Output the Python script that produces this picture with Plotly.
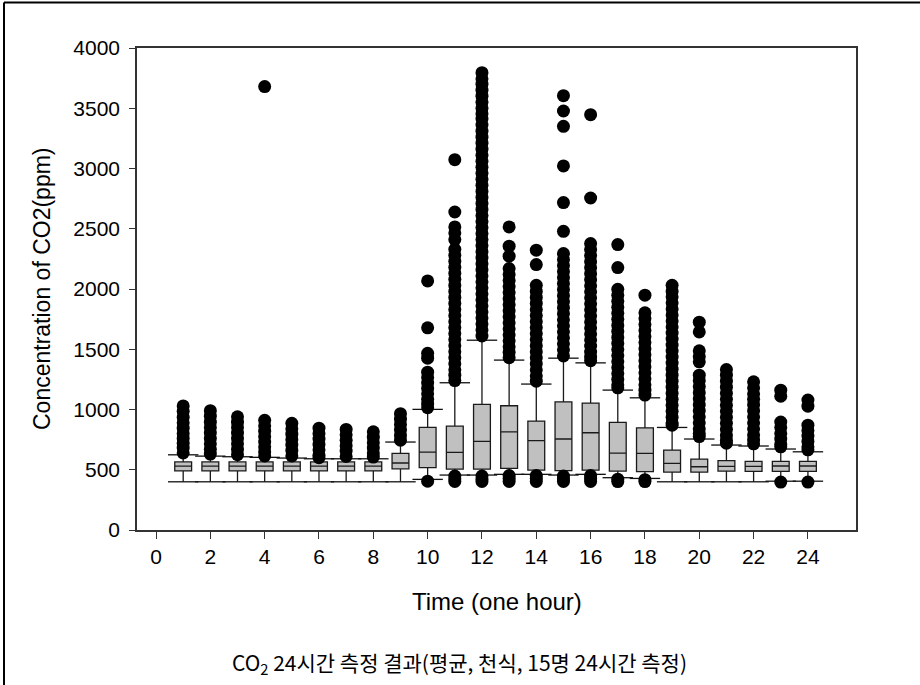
import plotly.graph_objects as go

# ---- box statistics per hour (ppm) ----
hours = list(range(1, 25))
q1 = [490, 490, 490, 490, 490, 490, 490, 490, 508, 517, 506, 506,
      511, 497, 492, 497, 489, 484, 481, 481, 489, 486, 486, 486]
median = [530, 530, 530, 530, 530, 530, 530, 530, 556, 647, 644, 735,
          815, 741, 755, 807, 638, 636, 553, 525, 528, 528, 531, 531]
q3 = [565, 565, 565, 565, 565, 565, 565, 565, 636, 851, 862, 1042,
      1031, 904, 1064, 1053, 893, 848, 663, 589, 575, 570, 570, 570]
whisker_low = [400, 400, 400, 400, 400, 400, 400, 400, 400, 420, 456, 456,
               462, 462, 456, 462, 434, 428, 400, 400, 400, 400, 405, 405]
whisker_high = [624, 613, 608, 603, 597, 591, 591, 591, 730, 1001, 1222, 1575,
                1410, 1211, 1426, 1387, 1161, 1097, 851, 755, 705, 697, 672, 649]

# ---- outliers above the upper whisker (ppm) ----
hi_01 = [1030, 985, 935, 890, 845, 800, 760, 720, 680, 640]
hi_02 = [990, 945, 895, 850, 805, 760, 715, 670, 630]
hi_03 = [940, 895, 850, 805, 760, 715, 670, 625]
hi_04 = [3680, 910, 865, 820, 775, 730, 690, 650, 615]
hi_05 = [885, 840, 795, 750, 705, 660, 615]
hi_06 = [845, 800, 755, 710, 665, 620, 600]
hi_07 = [835, 790, 745, 700, 655, 610]
hi_08 = [815, 770, 725, 680, 640, 605]
hi_09 = [965, 920, 875, 830, 785, 745]
hi_10 = [2067, 1678, 1466, 1426, 1310, 1265, 1220, 1175, 1130, 1085, 1045, 1015]
hi_11 = [3073, 2639, 2515, 2465, 2410, 2330, 2280, 2230, 2180, 2130, 2080, 2030,
         1980, 1930, 1880, 1830, 1780, 1730, 1680, 1630, 1580, 1530, 1480, 1430,
         1380, 1330, 1285, 1240]
hi_12 = [3795, 3745, 3700, 3650, 3600, 3550, 3500, 3455, 3410, 3360, 3310, 3260,
         3210, 3160, 3110, 3060, 3010, 2960, 2910, 2860, 2810, 2760, 2710, 2660,
         2610, 2560, 2510, 2460, 2410, 2360, 2310, 2260, 2210, 2160, 2110, 2060,
         2010, 1960, 1910, 1860, 1810, 1760, 1710, 1660, 1610]
hi_13 = [2515, 2355, 2272, 2170, 2120, 2070, 2020, 1970, 1920, 1870, 1820, 1770,
         1720, 1670, 1620, 1570, 1520, 1475, 1430]
hi_14 = [2322, 2203, 2031, 1980, 1930, 1880, 1830, 1780, 1730, 1680, 1630, 1580,
         1530, 1480, 1430, 1380, 1330, 1280, 1235]
hi_15 = [3604, 3477, 3350, 3021, 2717, 2479, 2294, 2245, 2195, 2145, 2095, 2045,
         1995, 1945, 1895, 1845, 1795, 1745, 1695, 1645, 1595, 1545, 1495, 1445]
hi_16 = [3447, 2755, 2377, 2327, 2277, 2227, 2177, 2127, 2077, 2027, 1977, 1927,
         1877, 1827, 1777, 1727, 1677, 1627, 1577, 1527, 1477, 1435, 1405]
hi_17 = [2369, 2178, 1998, 1948, 1898, 1848, 1798, 1748, 1698, 1648, 1598, 1548,
         1498, 1448, 1398, 1348, 1298, 1250, 1205, 1180]
hi_18 = [1949, 1802, 1755, 1705, 1655, 1605, 1555, 1505, 1455, 1405, 1355, 1305,
         1255, 1205, 1160, 1120]
hi_19 = [2031, 1980, 1935, 1885, 1835, 1785, 1735, 1685, 1635, 1585, 1535, 1485,
         1435, 1385, 1335, 1285, 1235, 1185, 1135, 1085, 1035, 985, 935, 890, 870]
hi_20 = [1725, 1644, 1487, 1440, 1396, 1285, 1240, 1190, 1140, 1090, 1040, 990,
         940, 890, 840, 800, 775]
hi_21 = [1332, 1285, 1235, 1185, 1135, 1085, 1035, 985, 935, 885, 835, 785, 745, 720]
hi_22 = [1230, 1180, 1130, 1085, 1040, 990, 940, 890, 840, 790, 750, 715]
hi_23 = [1160, 1110, 896, 850, 800, 755, 710, 690]
hi_24 = [1078, 1028, 870, 825, 780, 735, 690, 665]

outliers_high = [hi_01, hi_02, hi_03, hi_04, hi_05, hi_06, hi_07, hi_08,
                 hi_09, hi_10, hi_11, hi_12, hi_13, hi_14, hi_15, hi_16,
                 hi_17, hi_18, hi_19, hi_20, hi_21, hi_22, hi_23, hi_24]

# ---- outliers below the lower whisker (ppm) ----
lo_hours = [10, 11, 12, 13, 14, 15, 16, 17, 18, 23, 24]
lo_10 = [405]
lo_11 = [448, 425, 403]
lo_12 = [448, 425, 403]
lo_13 = [452, 428, 403]
lo_14 = [452, 428, 403]
lo_15 = [448, 425, 403]
lo_16 = [452, 428, 403]
lo_17 = [422, 402]
lo_18 = [418, 402]
lo_23 = [398]
lo_24 = [398]
outliers_low = [lo_10, lo_11, lo_12, lo_13, lo_14, lo_15, lo_16, lo_17, lo_18,
                lo_23, lo_24]

# ---- geometry of the page ----
W, H = 920, 685
PLOT_L, PLOT_R, PLOT_T, PLOT_B = 137, 856, 48, 530
BOX_WIDTH = 0.62
CAP_HALF = 0.56
FONT = "Arial, Liberation Sans, sans-serif"


def paper_x(px):
    return (px - PLOT_L) / (PLOT_R - PLOT_L)


def paper_y(py):
    return (PLOT_B - py) / (PLOT_B - PLOT_T)


fig = go.Figure()

# boxes with precomputed quartiles and whiskers
fig.add_trace(go.Box(
    x=hours, q1=q1, median=median, q3=q3,
    lowerfence=whisker_low, upperfence=whisker_high,
    width=BOX_WIDTH, whiskerwidth=0, boxpoints=False,
    fillcolor="#c0c0c0", line=dict(color="#1a1a1a", width=1.3),
    showlegend=False, hoverinfo="skip",
))

# wide whisker caps
cap_x, cap_y = [], []
for h, lo, hi in zip(hours, whisker_low, whisker_high):
    for v in (lo, hi):
        cap_x += [h - CAP_HALF, h + CAP_HALF, None]
        cap_y += [v, v, None]
fig.add_trace(go.Scatter(
    x=cap_x, y=cap_y, mode="lines",
    line=dict(color="#111111", width=1.3),
    showlegend=False, hoverinfo="skip",
))

# outlier dots
ox, oy = [], []
for h, vals in zip(hours, outliers_high):
    ox += [h] * len(vals)
    oy += vals
for h, vals in zip(lo_hours, outliers_low):
    ox += [h] * len(vals)
    oy += vals
fig.add_trace(go.Scatter(
    x=ox, y=oy, mode="markers",
    marker=dict(color="black", size=13, line=dict(width=0)),
    showlegend=False, hoverinfo="skip",
))

axis_common = dict(
    showgrid=False, zeroline=False, showline=True, mirror=True,
    linecolor="#333333", linewidth=1.5,
    ticks="outside", tickcolor="#333333", tickwidth=1.2,
    tickfont=dict(family=FONT, size=21, color="black"),
)

fig.update_xaxes(range=[-0.7, 25.77], tickmode="array",
                 tickvals=list(range(0, 25, 2)), ticklen=7, **axis_common)
fig.update_yaxes(range=[0, 4000], tickmode="linear", tick0=0, dtick=500,
                 ticklen=6, ticklabelstandoff=5, **axis_common)

annotations = [
    dict(text="Concentration of CO2(ppm)", textangle=-90,
         x=paper_x(42), y=0.5, xanchor="center", yanchor="middle",
         font=dict(family=FONT, size=23, color="black")),
    dict(text="Time (one hour)",
         x=0.5, y=paper_y(601), xanchor="center", yanchor="middle",
         font=dict(family=FONT, size=24, color="black")),
    dict(text="CO<sub>2</sub> 24시간 측정 결과(평균, 천식, 15명 24시간 측정)",
         x=paper_x(459), y=paper_y(663), xanchor="center", yanchor="middle",
         font=dict(family="Noto Sans CJK KR", size=21, color="black")),
]
for a in annotations:
    a.update(xref="paper", yref="paper", showarrow=False)

# thin page frame along the top and left edges
shapes = [
    dict(type="line", xref="paper", yref="paper",
         x0=paper_x(4), x1=paper_x(W), y0=paper_y(2.5), y1=paper_y(2.5),
         line=dict(color="black", width=2)),
    dict(type="line", xref="paper", yref="paper",
         x0=paper_x(4), x1=paper_x(4), y0=paper_y(2.5), y1=paper_y(H),
         line=dict(color="black", width=2)),
]

fig.update_layout(
    width=W, height=H,
    margin=dict(l=PLOT_L, r=W - PLOT_R, t=PLOT_T, b=H - PLOT_B),
    paper_bgcolor="white", plot_bgcolor="white",
    annotations=annotations, shapes=shapes,
    font=dict(family=FONT),
)

fig.write_html("out.html")
